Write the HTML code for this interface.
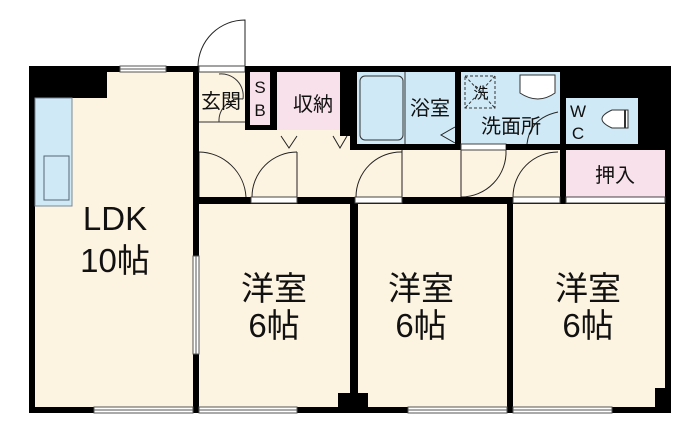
<!DOCTYPE html>
<html><head><meta charset="utf-8"><style>
body{margin:0;background:#fff}
svg{display:block}
text{font-family:"Liberation Sans","Noto Sans CJK JP",sans-serif;fill:#111}
</style></head><body>
<svg width="700" height="434" viewBox="0 0 700 434" xmlns="http://www.w3.org/2000/svg">
<rect x="29" y="66" width="642" height="347" fill="#000"/>
<rect x="35" y="72" width="158" height="335" fill="#fdf3e1"/>
<rect x="199" y="72" width="46" height="50" fill="#fdf3e1"/>
<rect x="199" y="122" width="151" height="75" fill="#fdf3e1"/>
<rect x="277" y="130" width="73" height="20" fill="#fdf3e1"/>
<rect x="350" y="150" width="210" height="47" fill="#fdf3e1"/>
<rect x="199" y="204" width="151" height="203" fill="#fdf3e1"/>
<rect x="358" y="204" width="149" height="203" fill="#fdf3e1"/>
<rect x="513" y="204" width="152" height="203" fill="#fdf3e1"/>
<rect x="29" y="66" width="78" height="32" fill="#000"/>
<line x1="199" y1="122" x2="245" y2="122" stroke="#333"/>
<path d="M219 74 A22 22 0 0 1 243 99" fill="none" stroke="#333"/>
<path d="M219 122 A22 22 0 0 1 243 99" fill="none" stroke="#333"/>
<rect x="250" y="72" width="20" height="53" fill="#f9e1ec"/>
<rect x="277" y="72" width="63" height="58" fill="#f9e1ec"/>
<rect x="566" y="150" width="99" height="47" fill="#f9e1ec"/>
<rect x="357" y="72" width="98" height="72" fill="#cfe9f6"/>
<rect x="461" y="72" width="99" height="72" fill="#cfe9f6"/>
<rect x="566" y="98" width="72" height="46" fill="#cfe9f6"/>
<rect x="35" y="98" width="37" height="108" fill="#cfe9f6" stroke="#789" stroke-width="1"/>
<rect x="44" y="156" width="25" height="44" fill="none" stroke="#567" stroke-width="1"/>
<rect x="360" y="76" width="43" height="64" rx="5" fill="none" stroke="#333" stroke-width="1"/>
<line x1="405" y1="72" x2="405" y2="144" stroke="#333"/>
<rect x="465" y="76" width="30" height="32" fill="none" stroke="#333" stroke-dasharray="3,2"/>
<line x1="465" y1="76" x2="495" y2="108" stroke="#333" stroke-dasharray="3,2"/>
<line x1="495" y1="76" x2="465" y2="108" stroke="#333" stroke-dasharray="3,2"/>
<path d="M520 75 h35 v18 q-17 12 -35 0 z" fill="#fff" stroke="#333"/>
<path d="M612 110 h16 v18 h-16 q-20 -9 0 -18z" fill="#fff" stroke="#333"/>
<line x1="625" y1="110" x2="625" y2="128" stroke="#333" stroke-width="2"/>
<path d="M198 66 A47 47 0 0 1 245 20 V66" fill="none" stroke="#222"/>
<path d="M199 152 A48 48 0 0 1 246 197" fill="none" stroke="#222"/>
<line x1="199" y1="152" x2="199" y2="197" stroke="#222"/>
<path d="M297 152 A45 45 0 0 0 252 197" fill="none" stroke="#222"/>
<line x1="297" y1="152" x2="297" y2="197" stroke="#222"/>
<path d="M402 152 A45 45 0 0 0 356 197" fill="none" stroke="#222"/>
<line x1="402" y1="150" x2="402" y2="197" stroke="#222"/>
<path d="M506 150 A45 45 0 0 1 461 197" fill="none" stroke="#222"/>
<line x1="461" y1="150" x2="461" y2="197" stroke="#222"/>
<path d="M558 152 A45 45 0 0 0 513 197" fill="none" stroke="#222"/>
<path d="M281 136 l8 12 l8 -12" fill="#fdf3e1" stroke="#222"/>
<path d="M333 136 l7 12 l7 -12" fill="#fdf3e1" stroke="#222"/>
<path d="M455 127 l-14 8 l14 8" fill="#cfe9f6" stroke="#222"/>
<path d="M527 144 Q530 118 558 112" fill="none" stroke="#222"/>
<rect x="193" y="66" width="6" height="347" fill="#000"/>
<rect x="199" y="66" width="46" height="6" fill="#fff" stroke="#444" stroke-width="1"/>
<rect x="245" y="66" width="5" height="64" fill="#000"/>
<rect x="245" y="125" width="32" height="5" fill="#000"/>
<rect x="270" y="72" width="7" height="58" fill="#000"/>
<rect x="340" y="66" width="17" height="26" fill="#000"/>
<rect x="340" y="92" width="10" height="44" fill="#000"/>
<rect x="350" y="72" width="7" height="78" fill="#000"/>
<rect x="455" y="72" width="6" height="78" fill="#000"/>
<rect x="560" y="72" width="105" height="26" fill="#000"/>
<rect x="560" y="98" width="6" height="106" fill="#000"/>
<rect x="638" y="98" width="27" height="52" fill="#000"/>
<rect x="350" y="144" width="110" height="6" fill="#000"/>
<rect x="461" y="144" width="45" height="6" fill="#fff" stroke="#444" stroke-width="1"/>
<rect x="506" y="144" width="54" height="6" fill="#000"/>
<rect x="199" y="197" width="466" height="7" fill="#000"/>
<rect x="350" y="197" width="8" height="216" fill="#000"/>
<rect x="507" y="197" width="6" height="216" fill="#000"/>
<rect x="338" y="393" width="12" height="14" fill="#000"/>
<rect x="358" y="393" width="10" height="14" fill="#000"/>
<rect x="655" y="388" width="10" height="19" fill="#000"/>
<rect x="251" y="197" width="46" height="6" fill="#fff" stroke="#444" stroke-width="1"/>
<rect x="355" y="197" width="47" height="6" fill="#fff" stroke="#444" stroke-width="1"/>
<rect x="513" y="197" width="47" height="6" fill="#fff" stroke="#444" stroke-width="1"/>
<rect x="566" y="197" width="99" height="6" fill="#fff" stroke="#444" stroke-width="1"/>
<g fill="#fff" stroke="#555" stroke-width="1">
<rect x="120" y="66" width="46" height="6"/>
<rect x="193" y="256" width="6" height="98"/>
<rect x="94" y="407" width="99" height="6"/>
<rect x="199" y="407" width="98" height="6"/>
<rect x="408" y="407" width="99" height="6"/>
<rect x="513" y="407" width="99" height="6"/>
</g>
<g stroke="#555"><line x1="120" y1="69" x2="166" y2="69"/><line x1="196" y1="256" x2="196" y2="354"/>
<line x1="94" y1="410" x2="193" y2="410"/><line x1="199" y1="410" x2="297" y2="410"/><line x1="408" y1="410" x2="507" y2="410"/><line x1="513" y1="410" x2="612" y2="410"/></g>
<text x="115" y="230" font-size="33" text-anchor="middle">LDK</text>
<text x="115" y="272" font-size="33" text-anchor="middle">10帖</text>
<g font-size="33" text-anchor="middle">
<text x="274" y="300">洋室</text><text x="274" y="337">6帖</text>
<text x="421" y="300">洋室</text><text x="421" y="337">6帖</text>
<text x="588" y="300">洋室</text><text x="588" y="337">6帖</text>
</g>
<text x="221" y="108" font-size="20" text-anchor="middle">玄関</text>
<text x="260" y="93" font-size="17" text-anchor="middle">S</text>
<text x="260" y="116" font-size="17" text-anchor="middle">B</text>
<text x="313" y="111" font-size="20" text-anchor="middle">収納</text>
<text x="430" y="115" font-size="20" text-anchor="middle">浴室</text>
<text x="481" y="98" font-size="15" text-anchor="middle">洗</text>
<text x="511" y="133" font-size="20" text-anchor="middle">洗面所</text>
<text x="578" y="117" font-size="17" text-anchor="middle">W</text>
<text x="578" y="139" font-size="17" text-anchor="middle">C</text>
<text x="615" y="182" font-size="20" text-anchor="middle">押入</text>
</svg>
</body></html>
